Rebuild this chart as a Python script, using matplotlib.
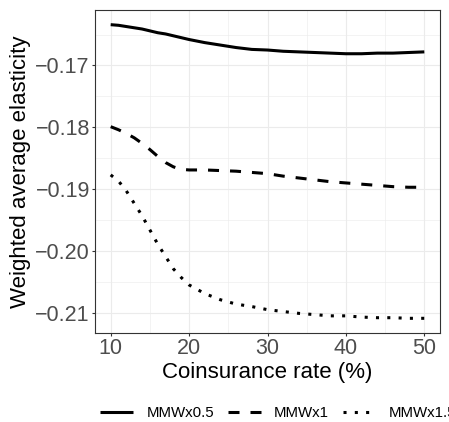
import matplotlib
matplotlib.use("Agg")
import matplotlib.pyplot as plt
from matplotlib.ticker import MultipleLocator

plt.rcParams['font.family'] = ['Liberation Sans', 'DejaVu Sans']

coins = [10, 11, 12, 13, 14, 15, 16, 17, 18, 19, 20, 22, 24, 26, 28, 30,
         32, 34, 36, 38, 40, 42, 44, 46, 48, 50]
mmw05 = [-0.1634, -0.1635, -0.1637, -0.1639, -0.1641, -0.1644, -0.1647, -0.1649,
         -0.1652, -0.1655, -0.1658, -0.1663, -0.1667, -0.1671, -0.1674, -0.1675,
         -0.1677, -0.1678, -0.1679, -0.1680, -0.1681, -0.1681, -0.1680, -0.1680,
         -0.1679, -0.1678]
mmw1 = [-0.1799, -0.1804, -0.1810, -0.1817, -0.1826, -0.1836, -0.1847, -0.1857,
        -0.1864, -0.1868, -0.1869, -0.1869, -0.1870, -0.1871, -0.1873, -0.1875,
        -0.1879, -0.1882, -0.1885, -0.1888, -0.1890, -0.1892, -0.1894, -0.1896,
        -0.1897, -0.1897]
mmw15 = [-0.1877, -0.1887, -0.1903, -0.1923, -0.1943, -0.1966, -0.1989, -0.2009,
         -0.2029, -0.2043, -0.2055, -0.2069, -0.2079, -0.2086, -0.2090, -0.2095,
         -0.2098, -0.2101, -0.2103, -0.2105, -0.2105, -0.2107, -0.2108, -0.2108,
         -0.2109, -0.2109]
series_labels = ["MMWx0.5", "MMWx1", "MMWx1.5"]
xticks = [10, 20, 30, 40, 50]
yticks = [-0.21, -0.20, -0.19, -0.18, -0.17]

W, H = 449, 422
fig = plt.figure(figsize=(W / 100, H / 100), dpi=100)
ax = fig.add_axes([95 / W, 1 - 333 / H, 345 / W, 323 / H])

lw = 2.2
ax.plot(coins, mmw05, color='black', lw=lw, solid_capstyle='butt', label=series_labels[0])
ax.plot(coins, mmw1, color='black', lw=lw, dashes=(3.6, 3.6), dash_capstyle='butt',
        label=series_labels[1])
ax.plot(coins, mmw15, color='black', lw=lw, dashes=(1.0, 2.7), dash_capstyle='butt',
        label=series_labels[2])

allv = mmw05 + mmw1 + mmw15
lo, hi = min(allv), max(allv)
pad = (hi - lo) * 0.05
ax.set_ylim(lo - pad, hi + pad)
ax.set_xlim(8, 52)

ax.set_xticks(xticks)
ax.set_yticks(yticks)
ax.set_yticklabels(["\u22120.21", "\u22120.20", "\u22120.19", "\u22120.18", "\u22120.17"])
ax.xaxis.set_minor_locator(MultipleLocator(5))
ax.yaxis.set_minor_locator(MultipleLocator(0.005))
ax.grid(which='major', color='#EBEBEB', lw=0.8)
ax.grid(which='minor', color='#EBEBEB', lw=0.4)
ax.set_axisbelow(True)
for s in ax.spines.values():
    s.set_color('#333333')
    s.set_linewidth(0.8)
ax.tick_params(which='major', length=2.2, width=0.8, color='#333333',
               labelcolor='#4D4D4D', labelsize=15.5, pad=1.5)
ax.tick_params(which='minor', length=0)

ax.set_xlabel("Coinsurance rate (%)", fontsize=16, color='black', labelpad=2)
ax.set_ylabel("Weighted average elasticity", fontsize=16, color='black', labelpad=3)

fig.legend(loc='center left', bbox_to_anchor=(100 / W, 1 - 413 / H), ncol=3,
           frameon=False, fontsize=10.8, handlelength=2.2, handletextpad=0.9,
           columnspacing=0.9, borderpad=0, borderaxespad=0)

fig.savefig("out.png", dpi=100)
